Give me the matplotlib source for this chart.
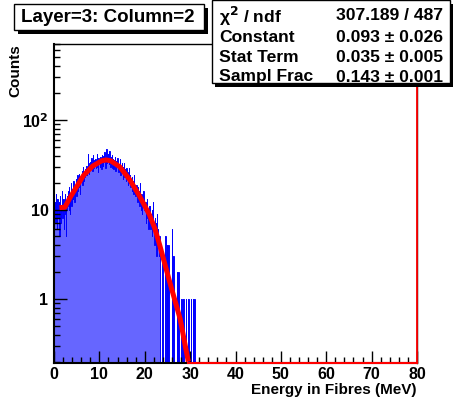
import numpy as np
import matplotlib
matplotlib.use("Agg")
import matplotlib.pyplot as plt
from matplotlib.patches import Rectangle
from matplotlib.ticker import FixedLocator, NullFormatter

plt.rcParams['font.family'] = ['Liberation Sans', 'DejaVu Sans']
plt.rcParams['font.weight'] = 'bold'

# ---------------- data ----------------
bin_width = 0.1
hist_start = 0.0
counts = [
    14, 9, 12, 7, 15, 10, 6, 13, 11, 8,        # 0
    9, 12, 5, 14, 10, 7, 11, 16, 8, 10,        # 1
    13, 6, 11, 9, 15, 12, 5, 10, 14, 11,       # 2
    12, 16, 10, 18, 13, 9, 15, 20, 11, 14,     # 3
    17, 13, 21, 15, 18, 12, 19, 16, 22, 14,    # 4
    19, 24, 16, 21, 18, 25, 20, 15, 23, 22,    # 5
    22, 27, 19, 25, 30, 21, 26, 23, 28, 24,    # 6
    26, 31, 24, 29, 42, 27, 33, 25, 30, 28,    # 7
    34, 28, 38, 30, 27, 35, 41, 29, 32, 36,    # 8
    31, 37, 29, 35, 42, 30, 34, 26, 38, 33,    # 9
    36, 30, 39, 33, 28, 41, 35, 37, 31, 40,    # 10
    34, 44, 38, 29, 36, 47, 33, 40, 35, 42,    # 11
    38, 32, 45, 35, 30, 39, 34, 41, 29, 37,    # 12
    33, 28, 36, 31, 39, 27, 35, 30, 34, 38,    # 13
    29, 35, 26, 32, 30, 37, 24, 31, 28, 33,    # 14
    27, 22, 30, 25, 33, 23, 28, 26, 21, 29,    # 15
    23, 26, 19, 25, 21, 29, 20, 24, 18, 22,    # 16
    20, 16, 23, 18, 21, 15, 24, 17, 19, 14,    # 17
    15, 19, 13, 17, 12, 18, 14, 16, 11, 20,    # 18
    13, 10, 15, 12, 9, 14, 11, 16, 10, 12,     # 19
    10, 12, 7, 11, 9, 13, 8, 10, 6, 11,        # 20
    8, 11, 6, 9, 7, 10, 5, 8, 12, 7,           # 21
    6, 4, 8, 5, 7, 3, 9, 5, 4, 6,              # 22
    4, 3, 5, 4, 0, 0, 0, 0, 0, 3,              # 23
    0, 0, 0, 0, 0, 5, 0, 0, 0, 4,              # 24
    0, 0, 4, 0, 0, 0, 0, 0, 0, 0,              # 25
    6, 0, 0, 3, 0, 0, 0, 0, 0, 0,              # 26
    0, 2, 0, 0, 2, 0, 0, 0, 0, 0,              # 27
    1, 0, 0, 0, 0, 1, 0, 0, 0, 0,              # 28
    1, 0, 0, 0, 0, 0, 1, 0, 0, 0,              # 29
    0, 1, 0, 0, 0, 0, 1, 0, 0, 1,              # 30
]

fit_x = [1.2, 2.4, 3.5, 5.0, 6.5, 8.5, 10.5, 11.5, 12.5, 14.5, 16.7, 18.9,
         21.0, 22.2, 23.3, 25.5, 27.8, 29.6]
fit_y = [10.5, 10.6, 13.5, 18, 24, 30.5, 35, 35.8, 35, 30, 21.5, 14,
         8.8, 6.2, 4.0, 1.55, 0.6, 0.2]

x_ticks = [0, 10, 20, 30, 40, 50, 60, 70, 80]
y_ticks = [1, 10, 100]
y_tick_labels = ['1', '10', '10$^{2}$']

title_text = 'Layer=3: Column=2'
stats_names = ['χ$^{2}$ / ndf', 'Constant', 'Stat Term', 'Sampl Frac']
stats_values = ['307.189 / 487', '0.093 ± 0.026', '0.035 ± 0.005', '0.143 ± 0.001']
xlabel = 'Energy in Fibres (MeV)'
ylabel = 'Counts'

x_min, x_max = 0, 80
y_min, y_max = 0.193, 706

# ---------------- figure ----------------
W, H = 456, 403
fig = plt.figure(figsize=(W / 100, H / 100), dpi=100)


def fx(px):
    return px / W


def fy(py):
    return 1 - py / H


L, R, T, B = 54, 417, 44, 363
ax = fig.add_axes([fx(L), fy(B), fx(R) - fx(L), fy(T) - fy(B)])
ax.set_yscale('log')
ax.set_xlim(x_min, x_max)
ax.set_ylim(y_min, y_max)

counts_arr = np.array(counts, dtype=float)
edges = hist_start + bin_width * np.arange(len(counts_arr) + 1)
draw_vals = np.where(counts_arr > 0, counts_arr, 1e-3)
ax.stairs(draw_vals, edges, baseline=1e-3, fill=True, color='#6666ff', lw=0)
ax.stairs(draw_vals, edges, baseline=1e-3, fill=False, color='#0000ff', lw=0.7)

ax.plot(fit_x, fit_y, color='#ff0000', lw=3.6, solid_capstyle='butt', zorder=5)
ax.plot([fit_x[-1], x_max], [y_min, y_min], color='#ff0000', lw=1.5, zorder=5, clip_on=False)
ax.plot([x_max, x_max], [y_min, y_max], color='#ff0000', lw=1.3, zorder=5, clip_on=False)

for s in ['top', 'right']:
    ax.spines[s].set_linewidth(1.0)
for s in ['left', 'bottom']:
    ax.spines[s].set_linewidth(1.5)

ax.set_xticks(x_ticks)
ax.set_xticklabels([str(v) for v in x_ticks])
ax.xaxis.set_minor_locator(FixedLocator(np.arange(x_min, x_max + 0.1, 2)))
ax.yaxis.set_major_locator(FixedLocator(y_ticks))
ax.set_yticklabels(y_tick_labels)
minor_y = [m * 10.0 ** e for e in range(-1, 3) for m in range(2, 10)]
ax.yaxis.set_minor_locator(FixedLocator(minor_y))
ax.yaxis.set_minor_formatter(NullFormatter())

ax.tick_params(axis='both', which='major', direction='in', length=9, width=1.0,
               labelsize=11.5, pad=4)
ax.tick_params(axis='both', which='minor', direction='in', length=4.5, width=1.0)
ax.tick_params(axis='x', which='major', pad=3)
for lab in ax.get_xticklabels() + ax.get_yticklabels():
    lab.set_fontweight('bold')

fig.text(fx(R), fy(394), xlabel, ha='right', va='baseline', fontsize=11, fontweight='bold')
fig.text(fx(15), fy(T), ylabel, ha='center', va='top', rotation=90, fontsize=11, fontweight='bold')


def shadow_box(x0, y0, x1, y1, dx, dy):
    fig.add_artist(Rectangle((fx(x0 + dx), fy(y1 + dy)), fx(x1) - fx(x0), fy(y0) - fy(y1),
                             transform=fig.transFigure, facecolor='black', edgecolor='black', lw=0, zorder=9))
    fig.add_artist(Rectangle((fx(x0), fy(y1)), fx(x1) - fx(x0), fy(y0) - fy(y1),
                             transform=fig.transFigure, facecolor='white', edgecolor='black', lw=1.0, zorder=10))


shadow_box(14, 4, 204, 30, 4, 4)
fig.text(fx(108), fy(17), title_text, ha='center', va='center', fontsize=13.5,
         fontweight='bold', zorder=11)

shadow_box(212, 0, 450, 83, 3, 4)
row_y = [16, 37, 57, 77]
for name, val, yy in zip(stats_names, stats_values, row_y):
    fig.text(fx(219), fy(yy), name, ha='left', va='center', fontsize=12.6, fontweight='bold', zorder=11)
    fig.text(fx(443), fy(yy), val, ha='right', va='center', fontsize=12.6, fontweight='bold', zorder=11)

fig.savefig('out.png', dpi=100)
